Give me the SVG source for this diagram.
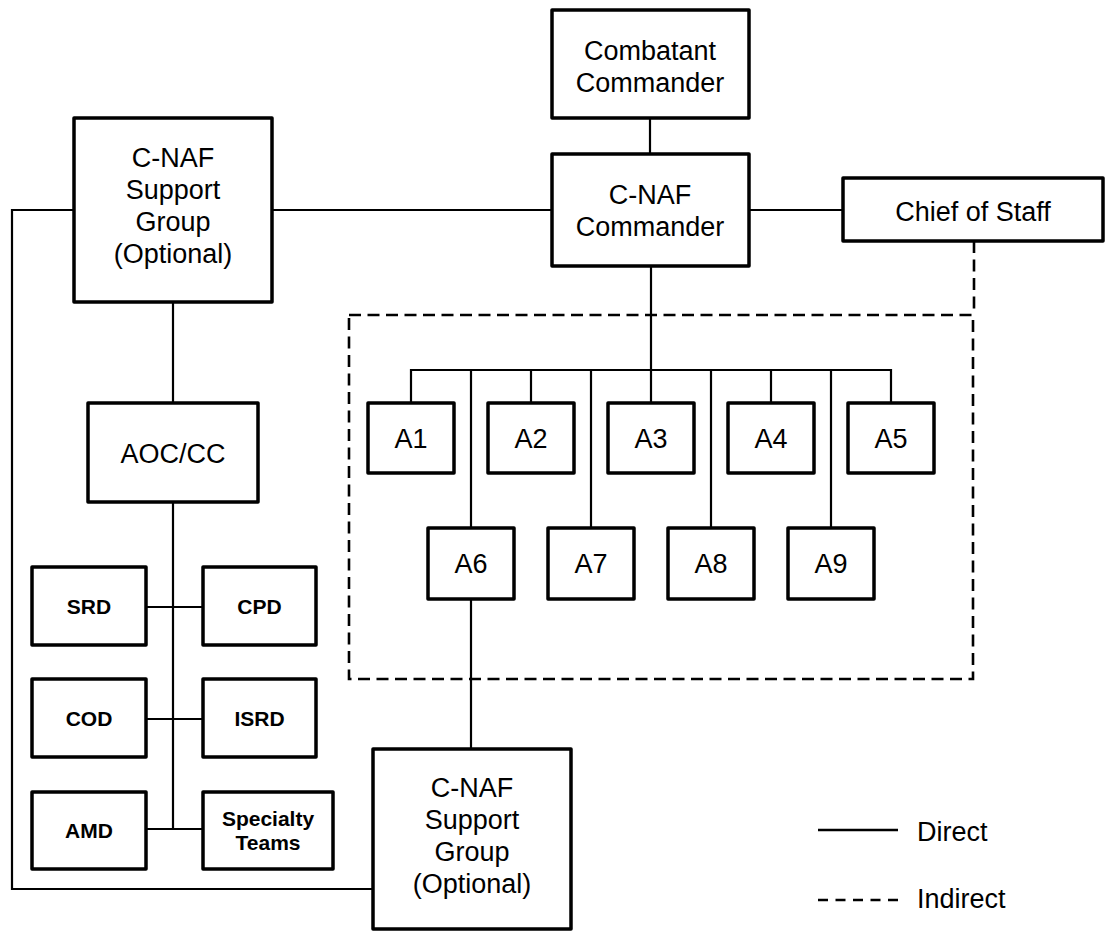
<svg xmlns="http://www.w3.org/2000/svg" width="1105" height="931" viewBox="0 0 1105 931">
<style>
.box{fill:#fff;stroke:#000;stroke-width:3.5;stroke-linejoin:round}
.ln{fill:none;stroke:#000;stroke-width:2.2}
.dash{fill:none;stroke:#000;stroke-width:2.6;stroke-dasharray:12 6.5}
.t{font-family:"Liberation Sans",Arial,sans-serif;font-size:27px;fill:#000;text-anchor:middle}
.b{font-family:"Liberation Sans",Arial,sans-serif;font-size:21px;font-weight:bold;fill:#000;text-anchor:middle}
.lg{font-family:"Liberation Sans",Arial,sans-serif;font-size:27px;fill:#000}
</style>
<rect width="1105" height="931" fill="#fff"/>
<g id="connectors">
<line class="ln" x1="650" y1="118" x2="650" y2="154"/>
<line class="ln" x1="272" y1="210" x2="552" y2="210"/>
<line class="ln" x1="749" y1="210" x2="843" y2="210"/>
<polyline class="ln" points="74,210 12,210 12,889 373,889"/>
<line class="ln" x1="173" y1="302" x2="173" y2="403"/>
<line class="ln" x1="173" y1="502" x2="173" y2="829"/>
<line class="ln" x1="146" y1="607" x2="203" y2="607"/>
<line class="ln" x1="146" y1="719" x2="203" y2="719"/>
<line class="ln" x1="146" y1="829" x2="203" y2="829"/>
<line class="ln" x1="651" y1="266" x2="651" y2="403"/>
<polyline class="ln" points="411,403 411,370 891,370 891,403"/>
<line class="ln" x1="531" y1="370" x2="531" y2="403"/>
<line class="ln" x1="771" y1="370" x2="771" y2="403"/>
<line class="ln" x1="471" y1="370" x2="471" y2="528"/>
<line class="ln" x1="591" y1="370" x2="591" y2="528"/>
<line class="ln" x1="711" y1="370" x2="711" y2="528"/>
<line class="ln" x1="831" y1="370" x2="831" y2="528"/>
<line class="ln" x1="471" y1="599" x2="471" y2="749"/>
<line class="dash" x1="974" y1="241" x2="974" y2="315"/>
<rect class="dash" x="349" y="315" width="624" height="364"/>
</g>
<g id="combatant-commander">
<rect class="box" x="552" y="10" width="197" height="108"/>
<text class="t" x="650" y="60">Combatant</text>
<text class="t" x="650" y="92">Commander</text>
</g>
<g id="cnaf-commander">
<rect class="box" x="552" y="154" width="197" height="112"/>
<text class="t" x="650" y="204">C-NAF</text>
<text class="t" x="650" y="236">Commander</text>
</g>
<g id="chief-of-staff">
<rect class="box" x="843" y="178" width="260" height="63"/>
<text class="t" x="973" y="221">Chief of Staff</text>
</g>
<g id="support-group-top">
<rect class="box" x="74" y="118" width="198" height="184"/>
<text class="t" x="173" y="167">C-NAF</text>
<text class="t" x="173" y="199">Support</text>
<text class="t" x="173" y="231">Group</text>
<text class="t" x="173" y="263">(Optional)</text>
</g>
<g id="aoc-cc">
<rect class="box" x="88" y="403" width="170" height="99"/>
<text class="t" x="173" y="463">AOC/CC</text>
</g>
<g id="srd"><rect class="box" x="32" y="567" width="114" height="78"/><text class="b" x="89" y="614">SRD</text></g>
<g id="cpd"><rect class="box" x="203" y="567" width="113" height="78"/><text class="b" x="259.5" y="614">CPD</text></g>
<g id="cod"><rect class="box" x="32" y="679" width="114" height="78"/><text class="b" x="89" y="726">COD</text></g>
<g id="isrd"><rect class="box" x="203" y="679" width="113" height="78"/><text class="b" x="259.5" y="726">ISRD</text></g>
<g id="amd"><rect class="box" x="32" y="792" width="114" height="77"/><text class="b" x="89" y="838">AMD</text></g>
<g id="specialty-teams"><rect class="box" x="203" y="792" width="130" height="77"/><text class="b" x="268" y="826">Specialty</text><text class="b" x="268" y="850">Teams</text></g>
<g id="a1"><rect class="box" x="368" y="403" width="86" height="70"/><text class="t" x="411" y="448">A1</text></g>
<g id="a2"><rect class="box" x="488" y="403" width="86" height="70"/><text class="t" x="531" y="448">A2</text></g>
<g id="a3"><rect class="box" x="608" y="403" width="86" height="70"/><text class="t" x="651" y="448">A3</text></g>
<g id="a4"><rect class="box" x="728" y="403" width="86" height="70"/><text class="t" x="771" y="448">A4</text></g>
<g id="a5"><rect class="box" x="848" y="403" width="86" height="70"/><text class="t" x="891" y="448">A5</text></g>
<g id="a6"><rect class="box" x="428" y="528" width="86" height="71"/><text class="t" x="471" y="573">A6</text></g>
<g id="a7"><rect class="box" x="548" y="528" width="86" height="71"/><text class="t" x="591" y="573">A7</text></g>
<g id="a8"><rect class="box" x="668" y="528" width="86" height="71"/><text class="t" x="711" y="573">A8</text></g>
<g id="a9"><rect class="box" x="788" y="528" width="86" height="71"/><text class="t" x="831" y="573">A9</text></g>
<g id="support-group-bottom">
<rect class="box" x="373" y="749" width="198" height="180"/>
<text class="t" x="472" y="797">C-NAF</text>
<text class="t" x="472" y="829">Support</text>
<text class="t" x="472" y="861">Group</text>
<text class="t" x="472" y="893">(Optional)</text>
</g>
<g id="legend">
<line class="ln" x1="818" y1="830" x2="898" y2="830" style="stroke-width:2.6"/>
<text class="lg" x="917" y="841">Direct</text>
<line class="ln" x1="818" y1="900" x2="898" y2="900" style="stroke-width:2.6;stroke-dasharray:10 7.5"/>
<text class="lg" x="917" y="908">Indirect</text>
</g>
</svg>
